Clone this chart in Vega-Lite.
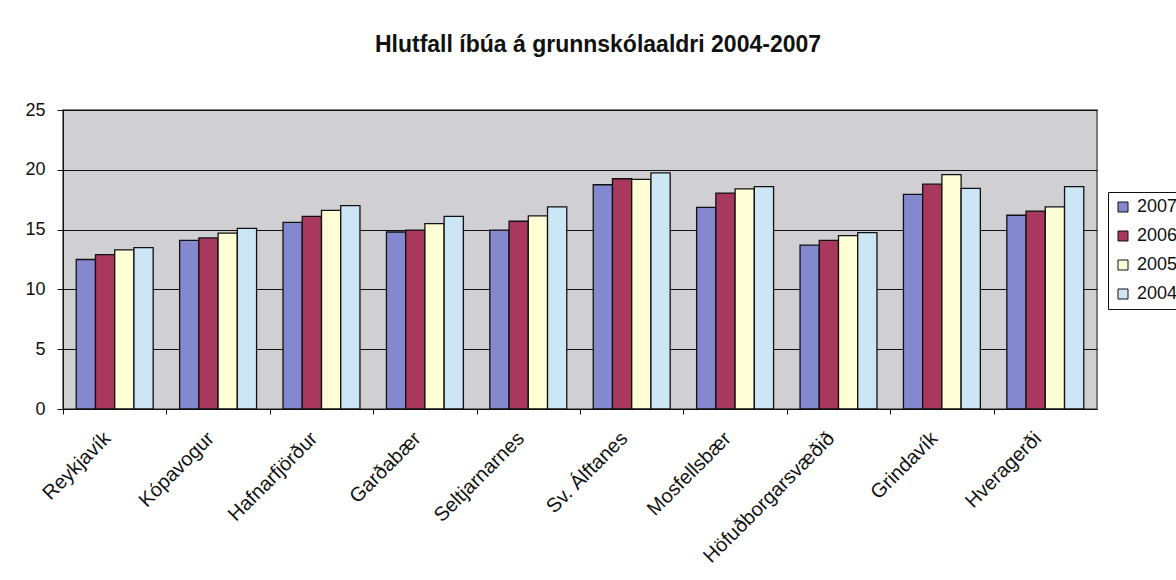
{
  "$schema": "https://vega.github.io/schema/vega-lite/v6.json",
  "autosize": "none",
  "width": 1034,
  "height": 299,
  "padding": {"left": 63, "top": 110, "right": 79, "bottom": 171},
  "background": "white",
  "title": {
    "text": "Hlutfall íbúa á grunnskólaaldri 2004-2007",
    "font": "Liberation Sans",
    "fontSize": 23,
    "fontWeight": "bold",
    "color": "#111111",
    "anchor": "middle",
    "baseline": "alphabetic",
    "offset": 26,
    "dx": 18
  },
  "data": {
    "values": [
      {"region": "Reykjavík", "year": "2007", "value": 12.5},
      {"region": "Reykjavík", "year": "2006", "value": 12.9},
      {"region": "Reykjavík", "year": "2005", "value": 13.3},
      {"region": "Reykjavík", "year": "2004", "value": 13.5},
      {"region": "Kópavogur", "year": "2007", "value": 14.1},
      {"region": "Kópavogur", "year": "2006", "value": 14.3},
      {"region": "Kópavogur", "year": "2005", "value": 14.7},
      {"region": "Kópavogur", "year": "2004", "value": 15.1},
      {"region": "Hafnarfjörður", "year": "2007", "value": 15.6},
      {"region": "Hafnarfjörður", "year": "2006", "value": 16.1},
      {"region": "Hafnarfjörður", "year": "2005", "value": 16.6},
      {"region": "Hafnarfjörður", "year": "2004", "value": 17.0},
      {"region": "Garðabær", "year": "2007", "value": 14.8},
      {"region": "Garðabær", "year": "2006", "value": 14.95},
      {"region": "Garðabær", "year": "2005", "value": 15.5},
      {"region": "Garðabær", "year": "2004", "value": 16.1},
      {"region": "Seltjarnarnes", "year": "2007", "value": 14.95},
      {"region": "Seltjarnarnes", "year": "2006", "value": 15.7},
      {"region": "Seltjarnarnes", "year": "2005", "value": 16.15},
      {"region": "Seltjarnarnes", "year": "2004", "value": 16.9},
      {"region": "Sv. Álftanes", "year": "2007", "value": 18.75},
      {"region": "Sv. Álftanes", "year": "2006", "value": 19.25},
      {"region": "Sv. Álftanes", "year": "2005", "value": 19.2},
      {"region": "Sv. Álftanes", "year": "2004", "value": 19.75},
      {"region": "Mosfellsbær", "year": "2007", "value": 16.85},
      {"region": "Mosfellsbær", "year": "2006", "value": 18.05},
      {"region": "Mosfellsbær", "year": "2005", "value": 18.4},
      {"region": "Mosfellsbær", "year": "2004", "value": 18.6},
      {"region": "Höfuðborgarsvæðið", "year": "2007", "value": 13.7},
      {"region": "Höfuðborgarsvæðið", "year": "2006", "value": 14.1},
      {"region": "Höfuðborgarsvæðið", "year": "2005", "value": 14.5},
      {"region": "Höfuðborgarsvæðið", "year": "2004", "value": 14.75},
      {"region": "Grindavík", "year": "2007", "value": 17.95},
      {"region": "Grindavík", "year": "2006", "value": 18.8},
      {"region": "Grindavík", "year": "2005", "value": 19.6},
      {"region": "Grindavík", "year": "2004", "value": 18.45},
      {"region": "Hveragerði", "year": "2007", "value": 16.2},
      {"region": "Hveragerði", "year": "2006", "value": 16.55},
      {"region": "Hveragerði", "year": "2005", "value": 16.9},
      {"region": "Hveragerði", "year": "2004", "value": 18.6}
    ]
  },
  "mark": {"type": "bar", "stroke": "#111111", "strokeWidth": 1.3},
  "encoding": {
    "x": {
      "field": "region",
      "type": "nominal",
      "sort": null,
      "title": null,
      "scale": {"paddingInner": 0.256, "paddingOuter": 0.128},
      "axis": {
        "labelAngle": -45,
        "labelAlign": "right",
        "labelBaseline": "middle",
        "labelFont": "Liberation Sans",
        "labelFontSize": 20,
        "labelColor": "#111111",
        "labelPadding": 21,
        "labelOffset": 44,
        "tickOffset": -51.7,
        "tickSize": 5,
        "tickColor": "#111111",
        "domainColor": "#111111",
        "labelOverlap": false
      }
    },
    "xOffset": {"field": "year", "type": "nominal", "sort": ["2007", "2006", "2005", "2004"]},
    "y": {
      "field": "value",
      "type": "quantitative",
      "title": null,
      "scale": {"domain": [0, 25], "nice": false},
      "axis": {
        "values": [0, 5, 10, 15, 20, 25],
        "labelFont": "Liberation Sans",
        "labelFontSize": 18,
        "labelColor": "#111111",
        "labelPadding": 12,
        "tickSize": 6,
        "tickColor": "#111111",
        "domainColor": "#111111",
        "gridColor": "#111111",
        "gridWidth": 1
      }
    },
    "color": {
      "field": "year",
      "type": "nominal",
      "sort": ["2007", "2006", "2005", "2004"],
      "scale": {"domain": ["2007", "2006", "2005", "2004"], "range": ["#8488cf", "#a8385e", "#ffffd6", "#cde6f6"]},
      "legend": {
        "title": null,
        "orient": "none",
        "legendX": 1045,
        "legendY": 82,
        "symbolType": "square",
        "symbolSize": 100,
        "symbolStrokeColor": "#111111",
        "symbolStrokeWidth": 1,
        "labelFont": "Liberation Sans",
        "labelFontSize": 18,
        "labelColor": "#111111",
        "labelOffset": 5,
        "rowPadding": 11,
        "padding": 6,
        "strokeColor": "#111111",
        "fillColor": "white"
      }
    }
  },
  "config": {
    "view": {"fill": "#d0d0d3", "stroke": "#555555", "strokeWidth": 1.5}
  }
}
